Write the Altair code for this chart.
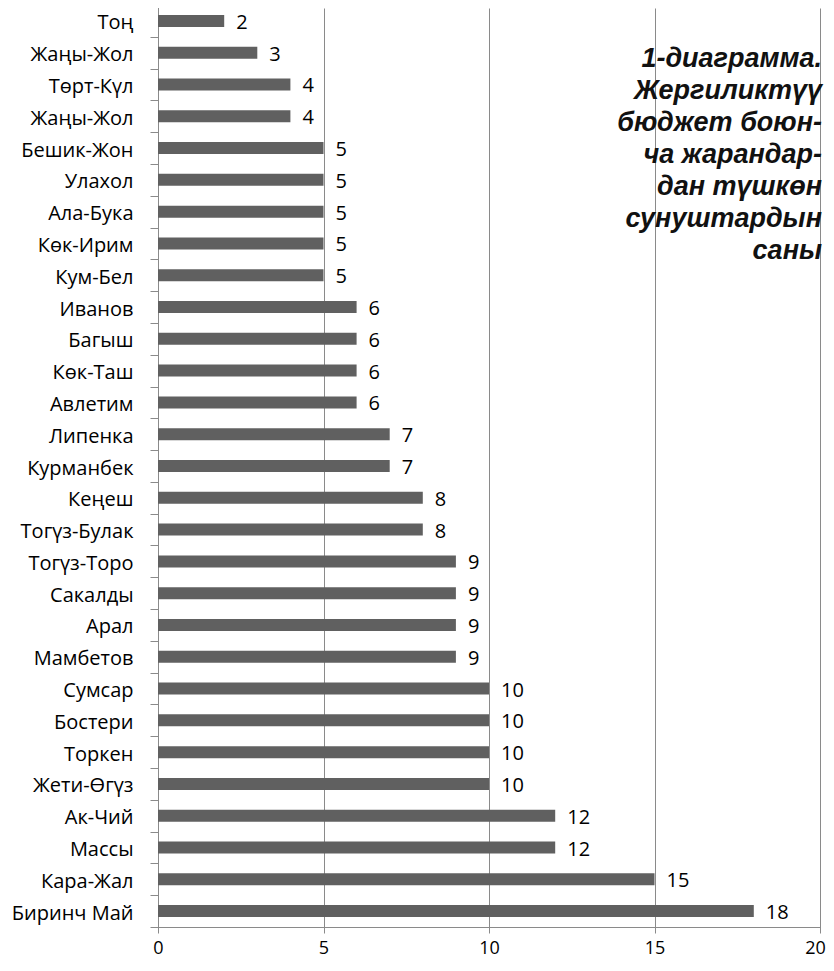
import json
import altair as alt
import pandas as pd

names = ["Тоң", "Жаңы-Жол", "Төрт-Күл\u00a0", "Жаңы-Жол", "Бешик-Жон", "Улахол",
         "Ала-Бука", "Көк-Ирим", "Кум-Бел", "Иванов", "Багыш", "Көк-Таш", "Авлетим",
         "Липенка", "Курманбек", "Кеңеш", "Тогүз-Булак", "Тогүз-Торо", "Сакалды", "Арал",
         "Мамбетов", "Сумсар", "Бостери", "Торкен\u00a0", "Жети-Өгүз", "Ак-Чий", "Массы",
         "Кара-Жал", "Биринч Май"]
values = [2, 3, 4, 4, 5, 5, 5, 5, 5, 6, 6, 6, 6, 7, 7, 8, 8, 9, 9, 9, 9, 10, 10, 10, 10, 12, 12, 15, 18]
x_ticks = [0, 5, 10, 15, 20]
title_lines = ["1-диаграмма.", "Жергиликтүү", "бюджет боюн-", "ча жарандар-",
               "дан түшкөн", "сунуштардын", "саны"]

df = pd.DataFrame({"idx": list(range(len(names))), "name": names, "v": values})

label_expr = json.dumps(names, ensure_ascii=False) + "[datum.value]"

y_enc = alt.Y(
    "idx:O",
    sort="ascending",
    scale=alt.Scale(paddingInner=0, paddingOuter=0, range=[-3, 919]),
    axis=alt.Axis(
        title=None, labelExpr=label_expr, tickBand="extent", tickSize=8,
        tickColor="#8a8a8a", domainColor="#8a8a8a", labelFont="Open Sans",
        labelFontSize=20, labelColor="#000000", labelPadding=17, labelOffset=2,
        grid=False,
    ),
)
x_enc = alt.X(
    "v:Q",
    scale=alt.Scale(domain=[0, 20], nice=False),
    axis=alt.Axis(
        title=None, values=x_ticks, grid=True, gridColor="#8a8a8a", gridWidth=1,
        tickSize=6, tickColor="#8a8a8a", domainColor="#8a8a8a", labelFont="Open Sans",
        labelFontSize=18, labelColor="#000000", labelPadding=6, labelFlush=False,
        labelOffset=alt.expr("datum.value === 20 ? -5 : 0"),
    ),
)

base = alt.Chart(df)
bars = base.mark_bar(color="#606060", size=12).encode(x=x_enc, y=y_enc)
labels = base.mark_text(
    align="left", baseline="middle", dx=12, dy=2, font="Open Sans", fontSize=20,
    color="#000000",
).encode(x="v:Q", y=alt.Y("idx:O", sort="ascending"), text="v:Q")

title_layer = alt.Chart(pd.DataFrame({"t": [0]})).mark_text(
    text=title_lines, align="right", baseline="alphabetic", lineHeight=32,
    font="Liberation Sans", fontStyle="italic", fontWeight="bold", fontSize=27,
    color="#111111",
).encode(x=alt.value(664), y=alt.value(59))

chart = alt.layer(bars, labels, title_layer).properties(
    width=662, height=919,
    autosize=alt.AutoSizeParams(type="none"),
    padding={"left": 150, "top": 0, "right": 6, "bottom": 36},
).configure_view(stroke=None)

chart.save("out.html", embed_options={"renderer": "svg", "actions": False})
